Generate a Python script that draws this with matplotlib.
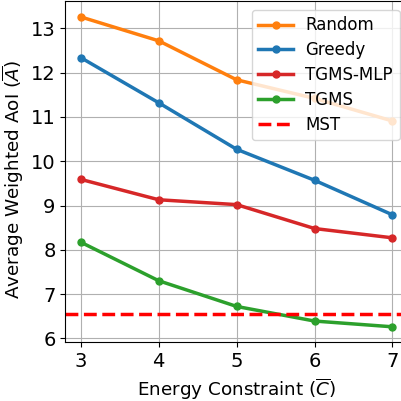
import numpy as np
import matplotlib
matplotlib.use("Agg")
import matplotlib.pyplot as plt

C = [3, 4, 5, 6, 7]
random_aoi = [13.26, 12.72, 11.84, 11.42, 10.91]
greedy_aoi = [12.34, 11.32, 10.27, 9.57, 8.79]
mlp_aoi = [9.59, 9.13, 9.02, 8.48, 8.27]
tgms_aoi = [8.17, 7.30, 6.72, 6.39, 6.26]
mst_aoi = 6.54

fig = plt.figure(figsize=(4.02, 4.01), dpi=100)
# right edge of the axes is cropped off in the original
ax = fig.add_axes([0.1624, 0.1464, 0.8525, 0.850])

ax.plot(C, random_aoi, '-o', color='tab:orange', lw=2.5, ms=5, label='Random')
ax.plot(C, greedy_aoi, '-o', color='tab:blue', lw=2.5, ms=5, label='Greedy')
ax.plot(C, mlp_aoi, '-o', color='tab:red', lw=2.5, ms=5, label='TGMS-MLP')
ax.plot(C, tgms_aoi, '-o', color='tab:green', lw=2.5, ms=5, label='TGMS')
ax.axhline(mst_aoi, color='red', ls='--', lw=2.5, label='MST')

ax.set_xticks(C)
ax.tick_params(labelsize=14)
ax.set_xlabel(r'Energy Constraint ($\overline{C}$)', fontsize=13.2)
ax.set_ylabel(r'Average Weighted AoI ($\overline{A}$)', fontsize=13.2)
ax.yaxis.set_label_coords(-0.115, 0.478)
ax.grid(True)
ax.legend(loc='upper right', fontsize=12, handlelength=2.1, handletextpad=0.72,
          labelspacing=0.41)

fig.savefig('out.png', dpi=100)
